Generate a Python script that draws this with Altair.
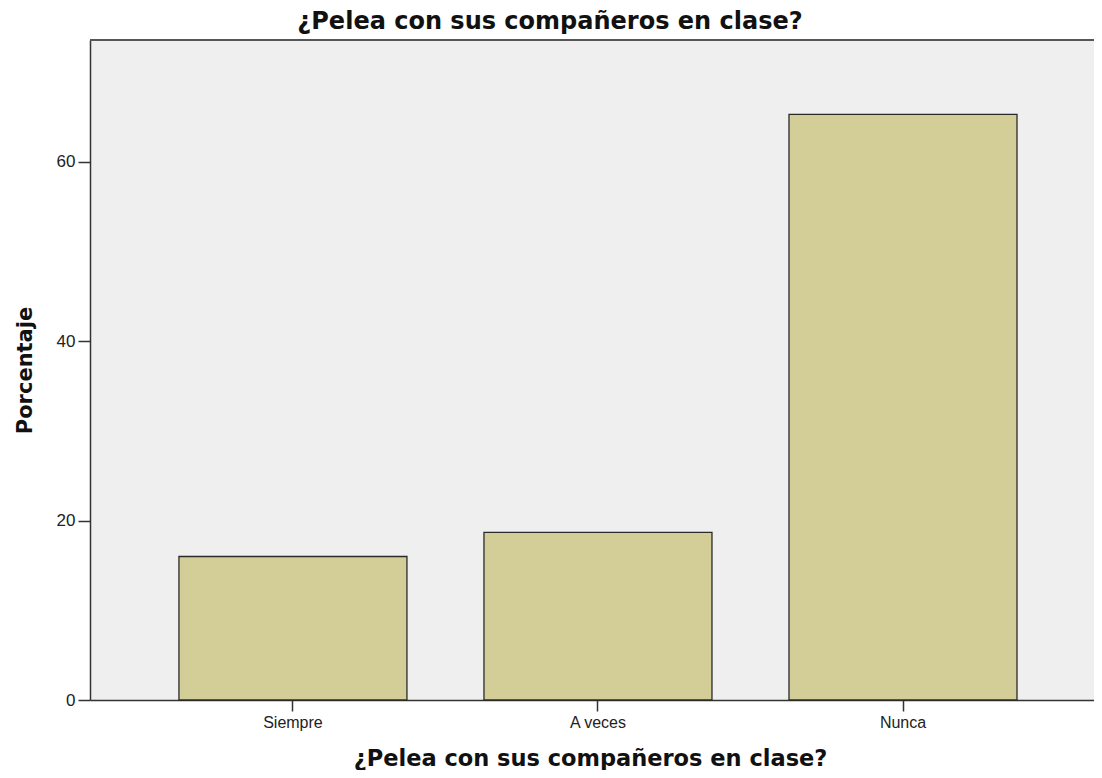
import altair as alt
import pandas as pd

categories = ["Siempre", "A veces", "Nunca"]
percentages = [16.0, 18.7, 65.3]
y_ticks = [0, 20, 40, 60]

title_text = "¿Pelea con sus compañeros en clase?"

df = pd.DataFrame({"cat": categories, "pct": percentages})

W = 1004
H = 660

bars = alt.Chart(df).mark_bar(
    color="#d3cd98", stroke="#2a2a2a", strokeWidth=1.3
).encode(
    x=alt.X(
        "cat:N",
        sort=categories,
        scale=alt.Scale(paddingInner=0.2525, paddingOuter=0.272, align=0.536),
        axis=alt.Axis(
            title=title_text,
            labelAngle=0,
            labelFont="Liberation Sans",
            labelFontSize=16,
            labelColor="#222222",
            labelPadding=3,
            tickSize=11,
            tickWidth=1.5,
            tickColor="#333333",
            domainColor="#333333",
            domainWidth=1.5,
            titleFont="DejaVu Sans",
            titleFontWeight="bold",
            titleFontSize=22.5,
            titleColor="#111111",
            titleX=500,
            titleY=65,
            titleAnchor="start",
            titleAlign="center",
            titleBaseline="alphabetic",
        ),
    ),
    y=alt.Y(
        "pct:Q",
        scale=alt.Scale(domain=[0, 73.6], nice=False, zero=True),
        axis=alt.Axis(
            title="Porcentaje",
            values=y_ticks,
            grid=False,
            labelFont="Liberation Sans",
            labelFontSize=17,
            labelColor="#222222",
            labelPadding=3,
            tickSize=12,
            tickWidth=1.5,
            tickColor="#333333",
            domainColor="#333333",
            domainWidth=1.5,
            titleFont="DejaVu Sans",
            titleFontWeight="bold",
            titleFontSize=21,
            titleColor="#111111",
            titleAngle=270,
            titleX=-65,
            titleY=330,
            titleAlign="center",
            titleBaseline="middle",
        ),
    ),
)

top_border = alt.Chart(df).mark_rule(color="#555555", strokeWidth=1.5).encode(
    x=alt.value(0), x2=alt.value(W), y=alt.value(0)
)

chart = alt.layer(bars, top_border).properties(
    width=W,
    height=H,
    autosize=alt.AutoSizeParams(type="none"),
    padding={"left": 82, "top": 32, "right": 0, "bottom": 70},
    background="white",
    title=alt.TitleParams(
        text=title_text,
        font="DejaVu Sans",
        fontWeight="bold",
        fontSize=24,
        color="#111111",
        anchor="middle",
        dx=-42,
        baseline="alphabetic",
        offset=-14,
    ),
).configure_view(fill="#efefef", stroke=None)

chart.save("out.html", embed_options={"renderer": "svg", "actions": False})
